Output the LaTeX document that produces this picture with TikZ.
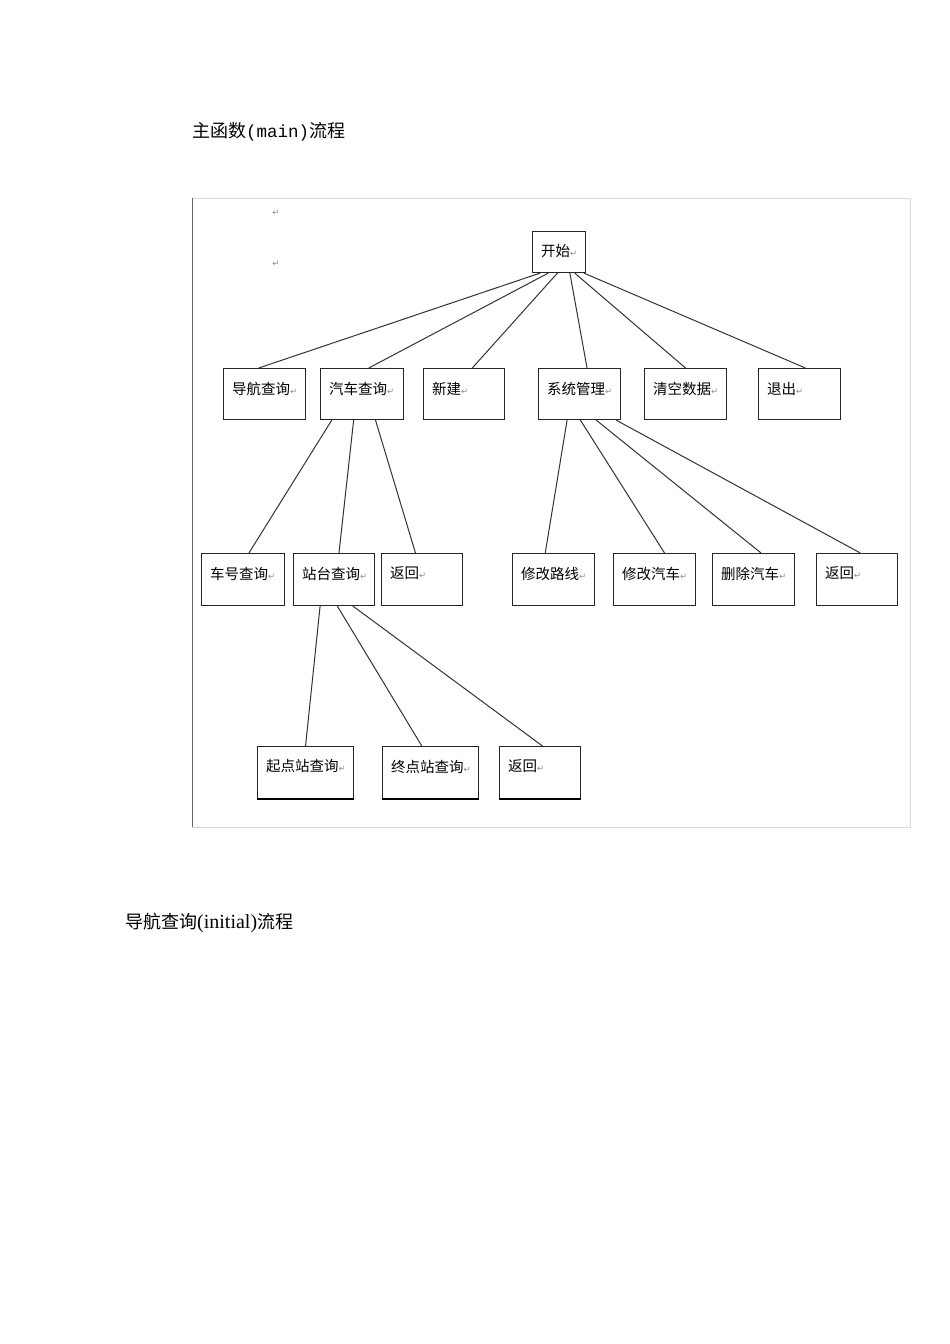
\documentclass[tikz,border=0pt]{standalone}
\usepackage{fontspec}
\setmainfont{Noto Sans CJK SC}
\newfontfamily\monofont{Liberation Mono}
\newfontfamily\serifont{Liberation Serif}
\newfontfamily\symfont{DejaVu Sans}
\usetikzlibrary{calc}

% return mark that Word prints after each paragraph
\newcommand{\ret}{{\symfont\fontsize{8.5}{8.5}\selectfont\color{black!45}↵}}

\tikzset{
  box/.style={draw=black!85, line width=1.1pt, anchor=north west, inner sep=0pt},
  lbl/.style={anchor=west, font=\fontsize{14.5}{14.5}\selectfont, inner sep=0pt},
  link/.style={draw=black!80, line width=1pt},
  title/.style={anchor=west, inner sep=0pt, font=\fontsize{18}{18}\selectfont}
}

% box: name, left, top, width, height, text
\newcommand{\bx}[6]{%
  \node[box, minimum width=#4pt, minimum height=#5pt] (#1) at (#2,#3) {};
  \node[lbl] (#1-t) at ([xshift=9pt,yshift=-20.5pt]#1.north west) {#6\ret};}
% link: parent, fraction on its bottom, child, fraction on its top
\newcommand{\lk}[4]{%
  \draw[link] ($(#1.south west)!#2!(#1.south east)$) -- ($(#3.north west)!#4!(#3.north east)$);}

\begin{document}
\begin{tikzpicture}[x=1pt, y=-1pt]
  \useasboundingbox[fill=white] (0,0) rectangle (950,1344);

  % headings
  \node[title] (t1) at (192,132) {主函数{\monofont\fontsize{17.5}{18}\selectfont(main)}流程};
  \node[title] (t2) at (125,923) {导航查询{\serifont\fontsize{20}{20}\selectfont(initial)}流程};

  % frame of the pasted drawing
  \draw[black!15, line width=0.8pt] (192,198) -- (910,198) -- (910,827) -- (192,827);
  \draw[black!60, line width=0.8pt] (192,198) -- (192,827);
  \node[inner sep=0pt] (p1) at (276,213) {\ret};
  \node[inner sep=0pt] (p2) at (276,264) {\ret};

  % root
  \bx{start}{532}{231}{53}{41}{开始}

  % first level
  \bx{nav}{223}{368}{82}{51}{导航查询}
  \bx{bus}{320}{368}{83}{51}{汽车查询}
  \bx{new}{423}{368}{81}{51}{新建}
  \bx{sys}{538}{368}{82}{51}{系统管理}
  \bx{clr}{644}{368}{82}{51}{清空数据}
  \bx{quit}{758}{368}{82}{51}{退出}

  % second level
  \bx{plate}{201}{553}{83}{52}{车号查询}
  \bx{stop}{293}{553}{81}{52}{站台查询}
  \bx{backA}{381}{553}{81}{52}{返回}
  \bx{route}{512}{553}{82}{52}{修改路线}
  \bx{edit}{613}{553}{82}{52}{修改汽车}
  \bx{del}{712}{553}{82}{52}{删除汽车}
  \bx{backB}{816}{553}{81}{52}{返回}

  % third level, heavier bottom edge
  \bx{from}{257}{746}{96}{52}{起点站查询}
  \bx{to}{382}{746}{96}{52}{终点站查询}
  \bx{backC}{499}{746}{81}{52}{返回}
  \foreach \b in {from,to,backC}
    \draw[black, line width=1.9pt] (\b.south west) -- (\b.south east);

  % connectors
  \lk{start}{.15}{nav}{.43}
  \lk{start}{.30}{bus}{.58}
  \lk{start}{.47}{new}{.60}
  \lk{start}{.70}{sys}{.59}
  \lk{start}{.79}{clr}{.50}
  \lk{start}{.96}{quit}{.57}

  \lk{bus}{.14}{plate}{.57}
  \lk{bus}{.40}{stop}{.56}
  \lk{bus}{.66}{backA}{.42}

  \lk{sys}{.35}{route}{.40}
  \lk{sys}{.51}{edit}{.62}
  \lk{sys}{.70}{del}{.59}
  \lk{sys}{.94}{backB}{.54}

  \lk{stop}{.33}{from}{.50}
  \lk{stop}{.54}{to}{.41}
  \lk{stop}{.73}{backC}{.53}
\end{tikzpicture}
\end{document}
